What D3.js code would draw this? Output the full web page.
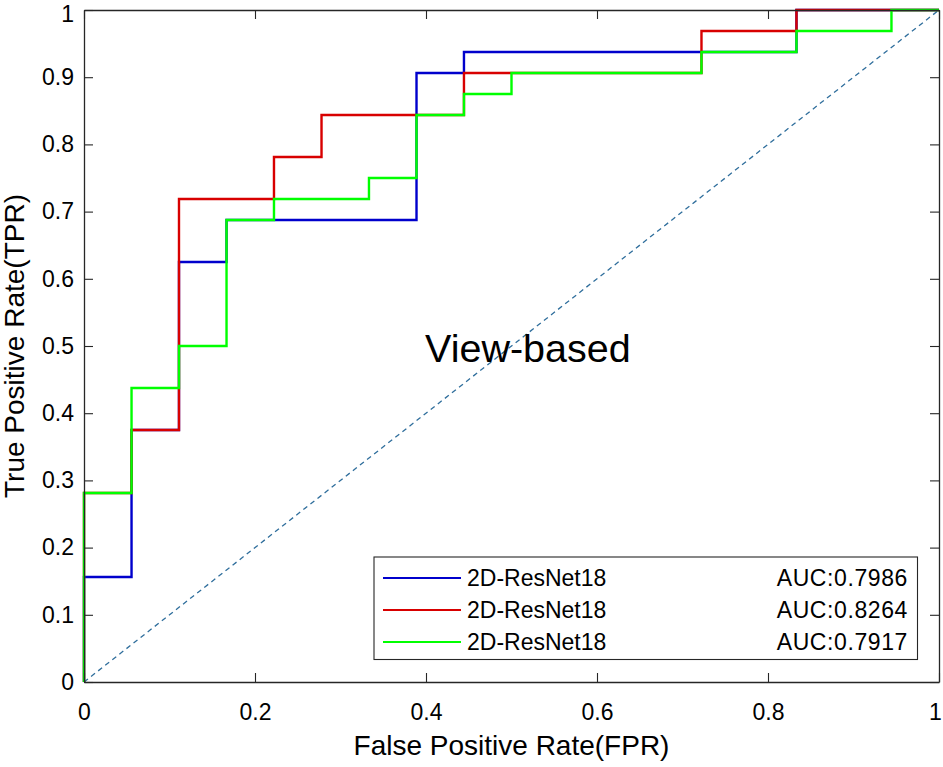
<!DOCTYPE html>
<html><head><meta charset="utf-8">
<script src="https://cdn.jsdelivr.net/npm/d3@7"></script>
<style>body{margin:0;background:#fff}svg{display:block}text{font-family:"Liberation Sans",Arial,sans-serif;fill:#000}</style>
</head><body><svg id="c" width="943" height="767"></svg>
<script>
const seriesNames = ["2D-ResNet18","2D-ResNet18","2D-ResNet18"];
const aucLabels = ["AUC:0.7986","AUC:0.8264","AUC:0.7917"];
const seriesColors = ["#0000CC","#D80000","#00FF00"];
const blueFPR = [0,0,0.0556,0.0556,0.1111,0.1111,0.1667,0.1667,0.3889,0.3889,0.4444,0.4444,0.8333,0.8333,1];
const blueTPR = [0,0.15625,0.15625,0.375,0.375,0.625,0.625,0.6875,0.6875,0.90625,0.90625,0.9375,0.9375,1,1];
const redFPR = [0,0,0.0556,0.0556,0.1111,0.1111,0.2222,0.2222,0.2778,0.2778,0.4444,0.4444,0.7222,0.7222,0.8333,0.8333,1];
const redTPR = [0,0.28125,0.28125,0.375,0.375,0.71875,0.71875,0.78125,0.78125,0.84375,0.84375,0.90625,0.90625,0.96875,0.96875,1,1];
const greenFPR = [0,0,0.0556,0.0556,0.1111,0.1111,0.1667,0.1667,0.2222,0.2222,0.3333,0.3333,0.3889,0.3889,0.4444,0.4444,0.5,0.5,0.7222,0.7222,0.8333,0.8333,0.9444,0.9444,1];
const greenTPR = [0,0.28125,0.28125,0.4375,0.4375,0.5,0.5,0.6875,0.6875,0.71875,0.71875,0.75,0.75,0.84375,0.84375,0.875,0.875,0.90625,0.90625,0.9375,0.9375,0.96875,0.96875,1,1];
const xTicks = [0,0.2,0.4,0.6,0.8,1];
const xTickLabels = ["0","0.2","0.4","0.6","0.8","1"];
const yTicks = [0,0.1,0.2,0.3,0.4,0.5,0.6,0.7,0.8,0.9,1];
const yTickLabels = ["0","0.1","0.2","0.3","0.4","0.5","0.6","0.7","0.8","0.9","1"];
const diagonal = [[0,0],[1,1]];

const svg = d3.select("#c");
const L=84,R=939,T=10,B=682;
const x = d3.scaleLinear().domain([0,1]).range([L,R]);
const y = d3.scaleLinear().domain([0,1]).range([B,T]);
const axc = "#262626";

// diagonal
svg.append("path").datum(diagonal)
  .attr("d", d3.line().x(d=>x(d[0])).y(d=>y(d[1])))
  .attr("fill","none").attr("stroke","#2F6E9C").attr("stroke-width",1.3)
  .attr("stroke-dasharray","5,4");

// curves
const series = [[blueFPR,blueTPR],[redFPR,redTPR],[greenFPR,greenTPR]];
series.forEach((s,i)=>{
  const pts = s[0].map((f,j)=>[f,s[1][j]]);
  svg.append("path").datum(pts)
    .attr("d", d3.line().x(d=>x(d[0])).y(d=>y(d[1])))
    .attr("fill","none").attr("stroke",seriesColors[i]).attr("stroke-width",2.4)
    .attr("stroke-linejoin","miter");
});

// axes (ticks inward on all sides)
const fmtX = (d,i)=>xTickLabels[i];
const fmtY = (d,i)=>yTickLabels[i];
const gB = svg.append("g").attr("transform",`translate(0,${B})`)
  .call(d3.axisBottom(x).tickValues(xTicks).tickFormat(fmtX).tickSizeInner(-9).tickSizeOuter(0));
const gT = svg.append("g").attr("transform",`translate(0,${T})`)
  .call(d3.axisTop(x).tickValues(xTicks).tickFormat("").tickSizeInner(-9).tickSizeOuter(0));
const gL = svg.append("g").attr("transform",`translate(${L},0)`)
  .call(d3.axisLeft(y).tickValues(yTicks).tickFormat(fmtY).tickSizeInner(-9).tickSizeOuter(0));
const gR = svg.append("g").attr("transform",`translate(${R},0)`)
  .call(d3.axisRight(y).tickValues(yTicks).tickFormat("").tickSizeInner(-9).tickSizeOuter(0));
[gB,gT,gL,gR].forEach(g=>{
  g.selectAll("path.domain").attr("stroke",axc).attr("stroke-width",1.3);
  g.selectAll(".tick line").attr("stroke",axc).attr("stroke-width",1.1);
  g.selectAll("text").attr("font-size",23).attr("font-family","Liberation Sans, Arial, sans-serif").attr("fill","#1a1a1a");
});
gB.selectAll(".tick text").attr("dy","0.71em").attr("y",22)
  .attr("dx",(d,i)=> i===xTicks.length-1 ? -4 : 0);
gL.selectAll(".tick text").attr("x",-10)
  .attr("dy",(d,i)=> i===yTicks.length-1 ? "0.5em" : "0.32em");

// axis titles
svg.append("text").attr("x",(L+R)/2).attr("y",755).attr("text-anchor","middle")
  .attr("font-size",28).text("False Positive Rate(FPR)");
svg.append("text").attr("transform",`translate(24,${(T+B)/2}) rotate(-90)`).attr("text-anchor","middle")
  .attr("font-size",28).text("True Positive Rate(TPR)");

// annotation
svg.append("text").attr("x",425).attr("y",362).attr("font-size",39.5).text("View-based");

// legend
const lg = svg.append("g");
lg.append("rect").attr("x",374).attr("y",557).attr("width",917.5-374).attr("height",659.5-557)
  .attr("fill","#fff").attr("stroke",axc).attr("stroke-width",1.1);
const rowY = [578,610,642];
seriesNames.forEach((n,i)=>{
  lg.append("line").attr("x1",383).attr("x2",461).attr("y1",rowY[i]).attr("y2",rowY[i])
    .attr("stroke",seriesColors[i]).attr("stroke-width",2.2);
  lg.append("text").attr("x",467).attr("y",rowY[i]).attr("dy","0.36em").attr("font-size",23).text(n);
  lg.append("text").attr("x",908).attr("y",rowY[i]).attr("dy","0.36em").attr("text-anchor","end")
    .attr("font-size",23).attr("letter-spacing","0.6px").text(aucLabels[i]);
});
</script></body></html>
